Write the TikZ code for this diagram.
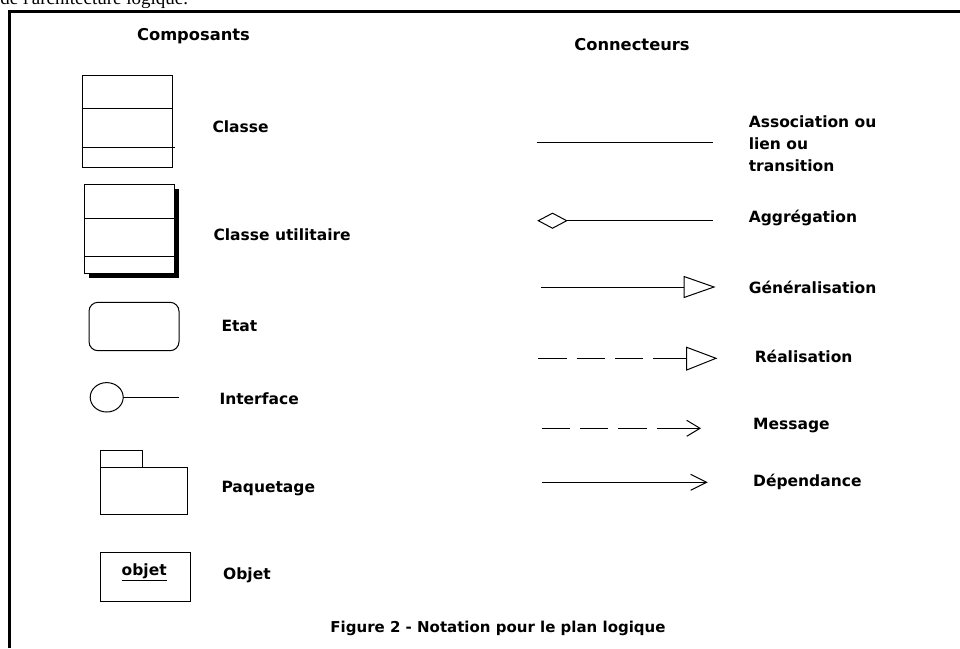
\documentclass[tikz,border=0pt]{standalone}
\usepackage{fontspec}
\setmainfont{DejaVu Sans}
\newfontfamily\serifcut{Liberation Serif}
\begin{document}
\begin{tikzpicture}[x=1pt,y=-1pt, line width=1pt,
  lbl/.style={anchor=west, inner sep=0pt, font=\fontsize{15.5}{22}\selectfont\bfseries},
  hdr/.style={anchor=center, inner sep=0pt, font=\fontsize{16.3}{18}\selectfont\bfseries},
  figcap/.style={anchor=center, inner sep=0pt, font=\fontsize{15}{17}\selectfont\bfseries},
  outl/.style={draw, line width=1pt},
  dsh/.style={dash pattern=on 28.3pt off 10pt}]
\useasboundingbox (0,0) rectangle (960,648);
% cut-off text at the top (partly outside the picture, as in the reference)
\node[anchor=base west, inner sep=0pt, font=\serifcut\fontsize{19}{20}\selectfont] (cut) at (0,4.5) {de l'architecture logique.};
% frame
\draw[line width=3pt] (9.5,648) -- (9.5,11.3) -- (960,11.3);
% headers
\node[hdr] (hcomp) at (193.5,36) {Composants};
\node[hdr] (hconn) at (632,45) {Connecteurs};
% Classe
\draw[outl] (82.7,75) rectangle (172.3,167.7);
\draw (82.7,108.7) -- (172.3,108.7);
\draw (82.7,147.3) -- (175,147.3);
\node[lbl] (lclasse) at (212,126.7) {Classe};
% Classe utilitaire
\fill[black] (89,189) -- (179,189) -- (179,278) -- (89,278) -- cycle;
\filldraw[fill=white, draw=black] (84,184) rectangle (174,273);
\draw (84,218) -- (174,218);
\draw (84,256.7) -- (174,256.7);
\node[lbl] (lutil) at (213,235) {Classe utilitaire};
% Etat
\draw[outl, rounded corners=9pt] (89,302.3) rectangle (179,350.7);
\node[lbl] (letat) at (221,326) {Etat};
% Interface
\draw (106.7,397.3) ellipse [x radius=16.5, y radius=14.7];
\coordinate (ifl) at (123.2,397.3);
\coordinate (ifr) at (179.3,397.3);
\draw (ifl) -- (ifr);
\node[lbl] (linter) at (219,399) {Interface};
% Paquetage
\draw[outl] (100,450) rectangle (142.3,467.3);
\draw[outl] (100,467.3) rectangle (187,514.3);
\node[lbl] (lpaq) at (221,488.3) {Paquetage};
% Objet
\draw[outl] (100,552.7) rectangle (190.3,601);
\node[anchor=center, inner sep=0pt, font=\fontsize{15.5}{18}\selectfont\bfseries] (objt) at (144.2,571.5) {objet};
\draw (121.7,580.3) -- (166.7,580.3);
\node[lbl] (lobj) at (222.7,575) {Objet};
% Association
\coordinate (a1) at (536.7,142.3);
\coordinate (a2) at (712.7,142.3);
\draw (a1) -- (a2);
\node[lbl, align=left] (lassoc) at (748.3,144) {Association ou\\lien ou\\transition};
% Aggregation
\coordinate (g0) at (538.3,220.7);
\coordinate (g1) at (566.7,220.7);
\coordinate (g2) at (712.7,220.7);
\draw (g0) -- (552.5,213.2) -- (g1) -- (552.5,228.2) -- cycle;
\draw (g1) -- (g2);
\node[lbl] (lagg) at (748.3,217.7) {Aggrégation};
% Generalisation
\coordinate (ge0) at (541,287);
\coordinate (ge1) at (684,287);
\draw (ge0) -- (ge1);
\draw (684,276.5) -- (714,287) -- (684,297.5) -- cycle;
\node[lbl] (lgen) at (748.3,287) {Généralisation};
% Realisation
\coordinate (r0) at (538.3,358.3);
\coordinate (r1) at (686.7,358.3);
\draw[dsh] (r0) -- (643.5,358.3);
\draw (653.3,358.3) -- (r1);
\draw (686.7,347.3) -- (716,358.3) -- (686.7,370) -- cycle;
\node[lbl] (lreal) at (754.3,356.7) {Réalisation};
% Message
\coordinate (m0) at (541.7,428.3);
\coordinate (m1) at (700,428.3);
\draw[dsh] (m0) -- (647,428.3);
\draw (656.7,428.3) -- (m1);
\draw (686.7,420.3) -- (m1) -- (686.7,436.3);
\node[lbl] (lmsg) at (752.7,426) {Message};
% Dependance
\coordinate (d0) at (541.7,482.3);
\coordinate (d1) at (706.7,482.3);
\draw (d0) -- (d1);
\draw (690.7,474.3) -- (d1) -- (690.7,490.3);
\node[lbl] (ldep) at (752.7,482.3) {Dépendance};
% caption
\node[figcap] (caption) at (498,628) {Figure 2 - Notation pour le plan logique};
\end{tikzpicture}
\end{document}
